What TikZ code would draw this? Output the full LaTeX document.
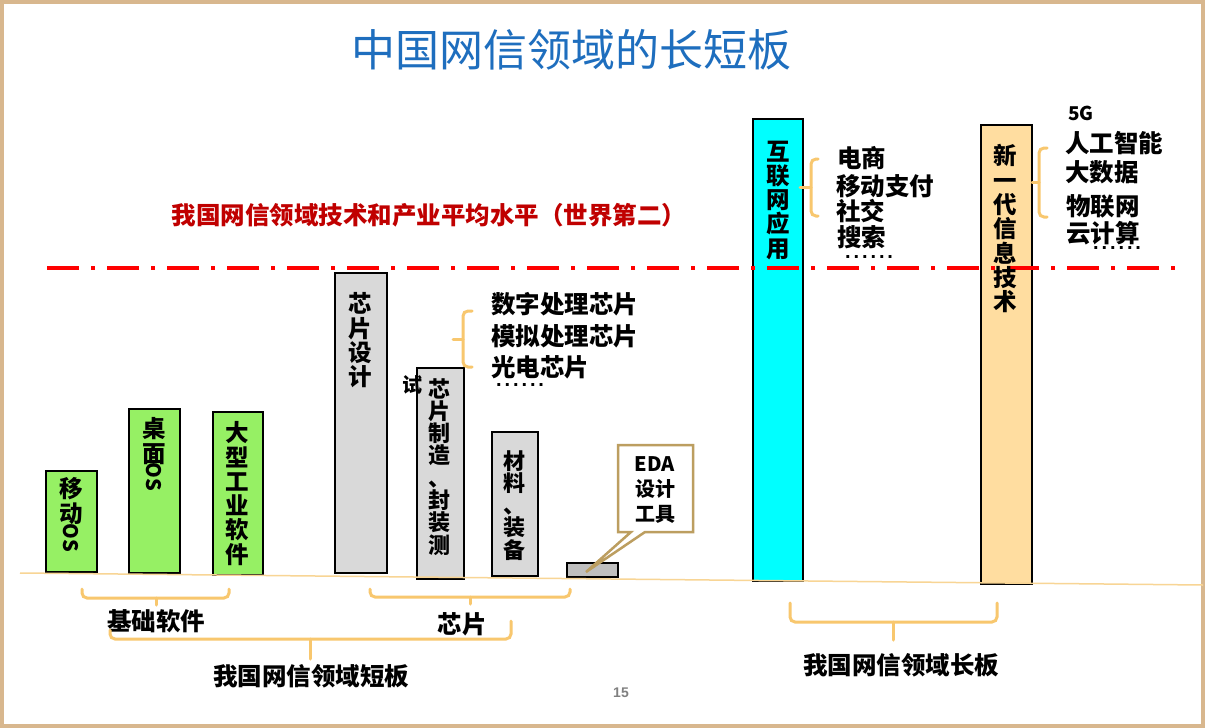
\documentclass[tikz,border=0pt]{standalone}
\usepackage{fontspec}
\newfontfamily\cjk{Noto Sans CJK SC}
\newfontfamily\lib{Liberation Sans}
\newcommand\dotrowx{.\kern2.9pt.\kern2.9pt.\kern2.9pt.\kern2.9pt.\kern2.9pt.}
\definecolor{frameC}{HTML}{D8B78E}
\definecolor{titleC}{HTML}{1E6EBE}
\definecolor{redT}{HTML}{C00000}
\definecolor{redL}{HTML}{FF0000}
\definecolor{greenC}{HTML}{96F064}
\definecolor{greyC}{HTML}{D9D9D9}
\definecolor{greyD}{HTML}{BFBFBF}
\definecolor{cyanC}{HTML}{00FFFF}
\definecolor{peachC}{HTML}{FFDDA0}
\definecolor{braceC}{HTML}{F8C76E}
\definecolor{baseC}{HTML}{F8D595}
\definecolor{calloutC}{HTML}{BC9E60}
\tikzset{
  bar/.style={draw=black, line width=1.1pt},
  vt/.style={font=\cjk\bfseries\fontsize{23.5}{24.3}\selectfont, align=center, inner sep=0pt, anchor=north},
  vtn/.style={font=\cjk\bfseries\fontsize{22}{22.3}\selectfont, align=center, inner sep=0pt, anchor=north},
  lt/.style={font=\cjk\bfseries\fontsize{24.5}{26}\selectfont, inner sep=0pt, anchor=west},
  dotsl/.style={font=\lib\bfseries\fontsize{20}{20}\selectfont, inner sep=0pt, anchor=base west},
  lbl/.style={font=\cjk\bfseries\fontsize{24.5}{26}\selectfont, inner sep=0pt},
  osl/.style={font=\cjk\bfseries\fontsize{20}{22}\selectfont, inner sep=0pt, rotate=-90},
  brace/.style={draw=braceC, line width=3pt, rounded corners=5pt, line cap=round},
}
\begin{document}
\begin{tikzpicture}[x=1pt,y=-1pt]
\useasboundingbox (0,0) rectangle (1205,728);
\fill[white] (0,0) rectangle (1205,728);
\draw[frameC, line width=4pt] (2,2) rectangle (1203,726);

% title
\node[font=\cjk\fontsize{44}{48}\selectfont, text=titleC, inner sep=0pt] (title) at (571,50) {中国网信领域的长短板};
\node[font=\cjk\bfseries\fontsize{24.5}{26}\selectfont, text=redT, inner sep=0pt] (avg) at (429,215) {我国网信领域技术和产业平均水平（世界第二）};

% bars
\draw[bar, fill=greenC] (46,471) rectangle (97,572);
\draw[bar, fill=greenC] (129,409) rectangle (180,573);
\draw[bar, fill=greenC] (213,412) rectangle (263,575);
\draw[bar, fill=greyC] (335,273) rectangle (387,573);
\draw[bar, fill=greyC] (417,368) rectangle (464,579);
\draw[bar, fill=greyC] (492,432) rectangle (538,576);
\draw[bar, fill=greyD] (567,563) rectangle (618,577);
\draw[bar, fill=cyanC] (753,119) rectangle (803,581);
\draw[bar, fill=peachC] (981,125) rectangle (1032,584);

% baseline
\draw[baseC, line width=1.5pt] (20,573) -- (1203,585);

% red average line
\draw[redL, line width=4pt, dash pattern=on 32pt off 12pt on 4pt off 12pt] (47,268) -- (1177,268);

% bar texts
\node[vt] (t1) at (71,477.5) {移\\动};
\node[osl] (t1os) at (71,538) {OS};
\node[vt] (t2) at (154,417.5) {桌\\面};
\node[osl] (t2os) at (154,477) {OS};
\node[vt] (t3) at (237,421.5) {大\\型\\工\\业\\软\\件};
\node[vt] (t4) at (360,292.5) {芯\\片\\设\\计};
\node[vtn] (t5) at (439,378) {芯\\片\\制\\造\\、\\封\\装\\测};
\node[font=\cjk\bfseries\fontsize{20}{22}\selectfont, inner sep=0pt] (shi) at (412,385) {试};
\node[vtn] (t6) at (514,450) {材\\料\\、\\装\\备};
\node[vt] (t7) at (778,140.5) {互\\联\\网\\应\\用};
\node[vt] (t8) at (1005,144.5) {新\\一\\代\\信\\息\\技\\术};

% EDA callout
\draw[calloutC, line width=2.5pt, fill=white, line join=miter] (618,445) -- (693,445) -- (693,532) -- (645,532) -- (586,572) -- (631,532) -- (618,532) -- cycle;
\node[font=\cjk\bfseries\fontsize{20}{25}\selectfont, align=center, inner sep=0pt] (eda) at (655,490) {EDA\\设计\\工具};

% chip list
\draw[brace] (472,311) -- (463,311) -- (463,367) -- (472,367);
\draw[brace] (453,339) -- (463,339);
\node[lt] (c1) at (491,304) {数字处理芯片};
\node[lt] (c2) at (491,336) {模拟处理芯片};
\node[lt] (c3) at (491,367) {光电芯片};
\node[dotsl] (c4) at (496,386) {\dotrowx};

% internet list
\draw[brace] (818,159) -- (811,159) -- (811,216) -- (818,216);
\draw[brace] (800,187) -- (811,187);
\node[lt] (i1) at (837,158) {电商};
\node[lt] (i2) at (836,186) {移动支付};
\node[lt] (i3) at (836,211) {社交};
\node[lt] (i4) at (837,237) {搜索};
\node[dotsl] (i5) at (845,258) {\dotrowx};

% new tech list
\draw[brace] (1047,148) -- (1039,148) -- (1039,217) -- (1047,217);
\draw[brace] (1032,182) -- (1039,182);
\node[font=\cjk\bfseries\fontsize{19}{21}\selectfont, inner sep=0pt, anchor=west] (n0) at (1068,113) {5G};
\node[lt] (n1) at (1065,143) {人工智能};
\node[lt] (n2) at (1065,172) {大数据};
\node[lt] (n3) at (1066,206) {物联网};
\node[lt] (n4) at (1066,233) {云计算};
\node[dotsl] (n5) at (1093,249) {\dotrowx};

% bottom braces
\draw[brace] (82,589) -- (82,598) -- (229,598) -- (229,589);
\draw[brace] (156,598) -- (156,605);
\node[lbl] (g1) at (156,621) {基础软件};
\draw[brace] (370,589) -- (370,597) -- (570,597) -- (570,589);
\draw[brace] (470,597) -- (470,604);
\node[lbl] (g2) at (462,624) {芯片};
\draw[brace] (110,630) -- (110,639) -- (511,639) -- (511,621);
\draw[brace] (310,639) -- (310,659);
\node[lbl] (g3) at (311,676) {我国网信领域短板};
\draw[brace] (790,603) -- (790,622) -- (997,622) -- (997,603);
\draw[brace] (893,622) -- (893,640);
\node[lbl] (g4) at (901,665) {我国网信领域长板};

% page number
\node[font=\lib\bfseries\fontsize{14}{16}\selectfont, text=gray, inner sep=0pt] (pg) at (621,693) {15};
\end{tikzpicture}
\end{document}
